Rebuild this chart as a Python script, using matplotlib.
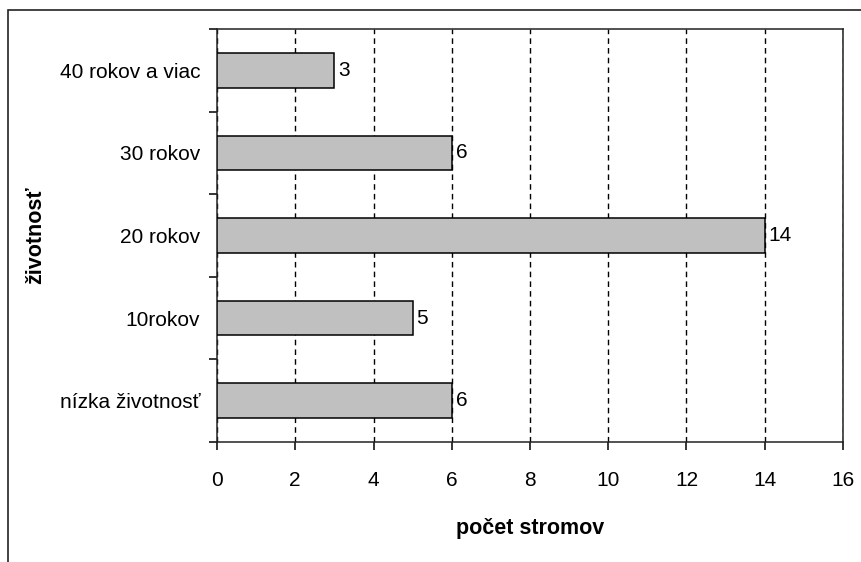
import matplotlib.pyplot as plt
from matplotlib.patches import Rectangle
import numpy as np

# pocet stromov podla zivotnosti
kategorie = ['nízka životnosť', '10rokov', '20 rokov', '30 rokov', '40 rokov a viac']
pocty = [6, 5, 14, 6, 3]
x_ticky = [0, 2, 4, 6, 8, 10, 12, 14, 16]

plt.rcParams['font.family'] = ['Liberation Sans', 'DejaVu Sans']

fig = plt.figure(figsize=(8.62, 5.62), dpi=100)
fig.subplots_adjust(left=217 / 862, right=843 / 862, top=1 - 29 / 562, bottom=1 - 442 / 562)
ax = fig.add_subplot(111)

# ramik okolo celeho grafu
fig.add_artist(Rectangle((8 / 862, -0.5), 2, 1.5 - 10 / 562, transform=fig.transFigure,
                         fill=False, edgecolor='#222222', linewidth=1.2))

pozicie = np.arange(len(kategorie))
ax.barh(pozicie, pocty, height=0.42, color='#c0c0c0', edgecolor='black', linewidth=1.1, zorder=3)

for p, v in zip(pozicie, pocty):
    ax.text(v + 0.1, p, str(v), va='center', ha='left', fontsize=15, zorder=4)

ax.set_xlim(0, 16)
ax.set_ylim(-0.5, len(kategorie) - 0.5)
ax.set_xticks(x_ticky)
ax.set_xticklabels([str(t) for t in x_ticky], fontsize=15)
ax.set_yticks(pozicie)
ax.set_yticklabels(kategorie, fontsize=15)
ax.set_yticks(np.arange(len(kategorie) + 1) - 0.5, minor=True)

ax.tick_params(axis='y', which='major', length=0, pad=12)
ax.tick_params(axis='y', which='minor', length=6, width=1.1, direction='out')
ax.tick_params(axis='x', which='major', length=6, width=1.1, direction='out', pad=15)

ax.grid(axis='x', color='black', linestyle=(0, (4, 3)), linewidth=1.0, zorder=1)

for s in ax.spines.values():
    s.set_linewidth(1.1)
    s.set_color('#222222')

ax.set_xlabel('počet stromov', fontsize=15.5, fontweight='bold', labelpad=20)
ax.set_ylabel('životnosť', fontsize=15.5, fontweight='bold', labelpad=10)

plt.savefig('out.png', dpi=100)
